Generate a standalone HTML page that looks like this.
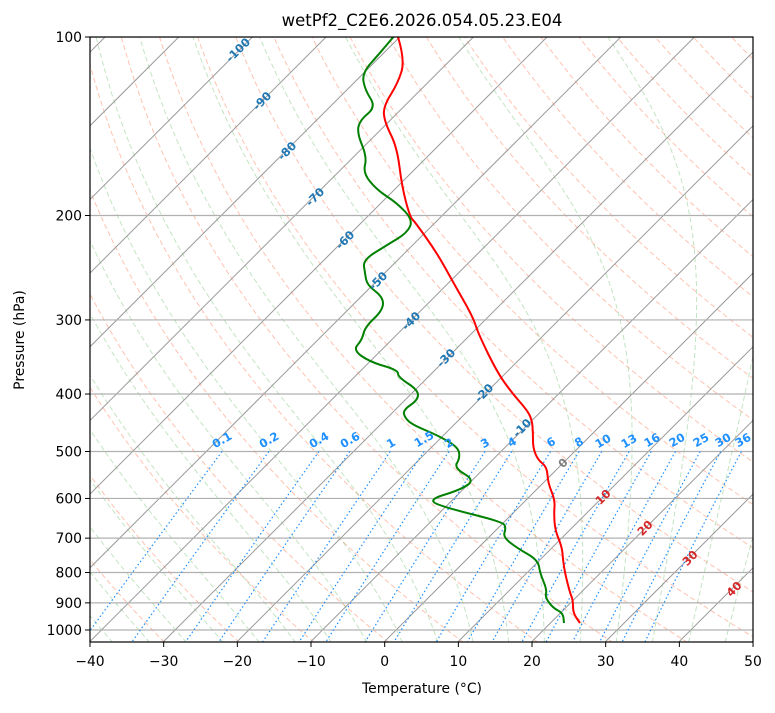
<!DOCTYPE html>
<html><head><meta charset="utf-8"><style>
body{margin:0;background:#fff;}
svg text{font-family:"DejaVu Sans","Liberation Sans",sans-serif;}
</style></head><body>
<svg id="s" width="775" height="708" xmlns="http://www.w3.org/2000/svg">
<defs><clipPath id="c"><rect x="90" y="37" width="663" height="605"/></clipPath></defs>
<g id="grid" clip-path="url(#c)"></g>
<g id="lab"></g>
<g id="ax"></g>
<text x="422" y="26" font-size="16.5" text-anchor="middle">wetPf2_C2E6.2026.054.05.23.E04</text>
<text x="422" y="693" font-size="13.9" text-anchor="middle">Temperature (°C)</text>
<text transform="translate(24,340) rotate(-90)" font-size="13.9" text-anchor="middle">Pressure (hPa)</text>
</svg>
<script>
const NS="http://www.w3.org/2000/svg";
const g=document.getElementById('grid'),lab=document.getElementById('lab'),ax=document.getElementById('ax');
function Y(p){return 37+593*Math.log10(p/100);}
function X(T,p){return 90+(T+40)*7.367+(642-Y(p));}
function el(par,tag,a,txt){const e=document.createElementNS(NS,tag);for(const k in a)e.setAttribute(k,a[k]);if(txt!==undefined)e.textContent=txt;par.appendChild(e);return e;}
function poly(pts,a){el(g,'polyline',Object.assign({points:pts.map(q=>q[0].toFixed(1)+','+q[1].toFixed(1)).join(' '),fill:'none'},a));}
function smooth(pts,a){let d='M'+pts[0][0]+','+pts[0][1];for(let i=1;i<pts.length-1;i++){const m=[(pts[i][0]+pts[i+1][0])/2,(pts[i][1]+pts[i+1][1])/2];d+=' Q'+pts[i][0]+','+pts[i][1]+' '+m[0]+','+m[1];}const l=pts[pts.length-1];d+=' L'+l[0]+','+l[1];el(g,'path',Object.assign({d:d,fill:'none'},a));}
const ps=[];for(let p=1050;p>=100;p-=5)ps.push(p);
for(let th=200;th<=560;th+=10){poly(ps.map(p=>[X(th*Math.pow(p/1000,0.286)-273.15,p),Y(p)]),{stroke:'#ff9070','stroke-opacity':0.55,'stroke-width':1,'stroke-dasharray':'5,3'});}
function es(T){return 6.112*Math.exp(17.67*T/(T+243.5));}
function dTdp(T,p){const Tk=T+273.15,e=es(T),rs=0.622*e/(p-e),Rd=287,Lv=2.501e6,Cp=1005;return (Rd*Tk+Lv*rs)/(p*(Cp+Lv*Lv*rs*0.622/(Rd*Tk*Tk)));}
for(let t0=-50;t0<=60;t0+=5){const pts=[];
 let T1=t0;for(let q=1000;q<1050;q+=1){T1+=dTdp(T1,q);}
 let T=T1;for(let p=1050;p>=100;p-=1){if(p%5==0)pts.push([X(T,p),Y(p)]);T-=dTdp(T,p);}
 poly(pts,{stroke:'#66bb66','stroke-opacity':0.4,'stroke-width':1,'stroke-dasharray':'5,3'});}
for(let T=-200;T<=60;T+=10){el(g,'line',{x1:X(T,1050),y1:642,x2:X(T,1050)+700,y2:-58,stroke:'#999','stroke-width':1});}
[100,200,300,400,500,600,700,800,900,1000].forEach(p=>el(g,'line',{x1:90,x2:753,y1:Y(p),y2:Y(p),stroke:'#b0b0b0','stroke-width':1.2}));
const ws=[0.1,0.2,0.4,0.6,1,1.5,2,3,4,6,8,10,13,16,20,25,30,36];
ws.forEach(w=>{const pts=[];for(let p=500;p<=1050;p+=10){const e=w*p/(622+w),l=Math.log(e/6.112),T=243.5*l/(17.67-l);pts.push([X(T,p),Y(p)]);}
 poly(pts,{stroke:'#1e90ff','stroke-width':1.2,'stroke-dasharray':'1.5,2.5'});});
const red=[[398,37],[405,60],[398,83],[383,107],[385,123],[397,147],[402,187],[410,217],[415,222],[437,253],[453,282],[473,317],[478,333],[497,372],[512,393],[527,410],[532,420],[533,433],[533,448],[538,460],[547,467],[548,483],[555,500],[554,513],[555,530],[562,547],[563,560],[565,573],[570,593],[573,600],[573,613],[580,623]];
const grn=[[395,35],[380,53],[362,73],[365,90],[376,107],[360,120],[357,133],[367,157],[363,173],[377,190],[397,203],[413,220],[407,233],[387,245],[363,260],[365,273],[367,285],[383,297],[383,310],[365,327],[362,340],[353,350],[370,362],[398,370],[398,377],[418,390],[418,400],[403,410],[405,418],[413,425],[437,435],[458,447],[460,458],[454,468],[475,480],[460,490],[427,500],[447,508],[503,522],[506,528],[503,537],[517,548],[538,560],[540,573],[547,590],[545,597],[553,608],[563,613],[564,623]];
smooth(red,{stroke:'#ff0000','stroke-width':2,'stroke-linejoin':'round'});
smooth(grn,{stroke:'#008000','stroke-width':2,'stroke-linejoin':'round'});
const il=[[-100,238,50],[-90,262,101],[-80,287,151],[-70,315,197],[-60,345,240],[-50,378,281],[-40,411,321],[-30,446,358],[-20,484,393],[-10,522,428],[0,563,463],[10,603,497],[20,645,528],[30,690,558],[40,734,589]];
il.forEach(([t,x,y])=>{const c=t<0?'#1f77b4':(t==0?'#808080':'#d62728');el(lab,'text',{x:x,y:y+4,'font-size':11.5,'font-weight':'bold',fill:c,'text-anchor':'middle',transform:`rotate(-45 ${x} ${y})`},t);});
const ml=[[222,440],[269,440],[319,440],[350,440],[391,443],[424,439],[449,443],[485,443],[512,442],[551,442],[579,442],[603,441],[629,441],[652,440],[677,440],[701,440],[723,440],[743,440]];
ws.forEach((w,i)=>{const [x,y]=ml[i];el(lab,'text',{x:x,y:y+4,'font-size':11.5,'font-weight':'bold',fill:'#1e90ff','text-anchor':'middle',transform:`rotate(-30 ${x} ${y})`},w);});
el(ax,'rect',{x:90,y:37,width:663,height:605,fill:'none',stroke:'#000','stroke-width':1.2});
for(let T=-40;T<=50;T+=10){const x=90+(T+40)*7.367;el(ax,'line',{x1:x,x2:x,y1:642,y2:647,stroke:'#000'});el(ax,'text',{x:x,y:666,'font-size':13.9,'text-anchor':'middle'},T<0?'\u2212'+(-T):T);}
[100,200,300,400,500,600,700,800,900,1000].forEach(p=>{const y=Y(p);el(ax,'line',{x1:85,x2:90,y1:y,y2:y,stroke:'#000'});el(ax,'text',{x:82,y:y+5,'font-size':13.9,'text-anchor':'end'},p);});
</script>
</body></html>
